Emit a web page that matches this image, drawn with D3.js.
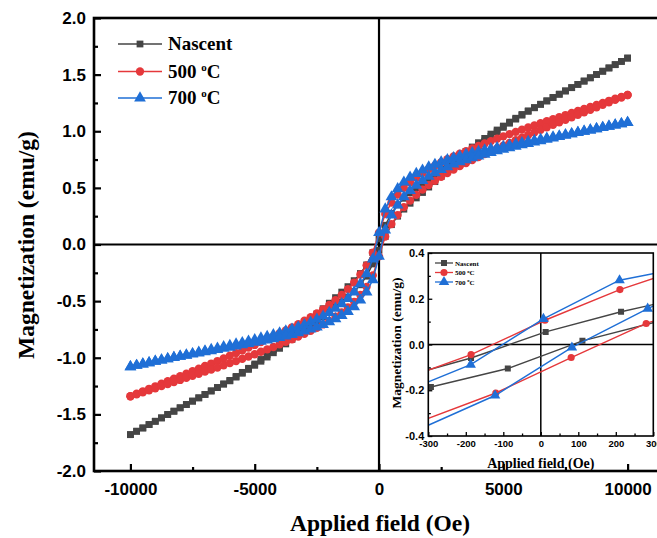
<!DOCTYPE html>
<html>
<head>
<meta charset="utf-8">
<script src="https://cdn.jsdelivr.net/npm/d3@7"></script>
<style>
body { margin: 0; background: #fff; }
svg { display: block; }
.tick text { font-family: "Liberation Sans", Arial, sans-serif; font-weight: bold; fill: #000; }
.title { font-family: "Liberation Serif", "Times New Roman", serif; font-weight: bold; fill: #000; }
</style>
</head>
<body>
<div id="chart"></div>
<script>
var width = 657,
    height = 538;

// field grid of the main loop (Oe)
var fields = [-10000,-9750,-9500,-9250,-9000,-8750,-8500,-8250,-8000,-7750,-7500,-7250,-7000,-6750,-6500,-6250,
  -6000,-5750,-5500,-5250,-5000,-4750,-4500,-4250,-4000,-3750,-3500,-3250,-3000,-2750,-2500,-2250,
  -2000,-1750,-1500,-1250,-1000,-750,-500,-250,0,250,500,750,1000,1250,1500,1750,
  2000,2250,2500,2750,3000,3250,3500,3750,4000,4250,4500,4750,5000,5250,5500,5750,
  6000,6250,6500,6750,7000,7250,7500,7750,8000,8250,8500,8750,9000,9250,9500,9750,10000];

// magnetization (emu/g), descending branch (Up) and ascending branch (Down)
var nascentUp = [-1.679,-1.649,-1.62,-1.59,-1.561,-1.531,-1.501,-1.472,-1.442,-1.413,-1.383,-1.354,-1.324,-1.293,-1.263,
  -1.231,-1.2,-1.165,-1.129,-1.093,-1.055,-1.015,-0.974,-0.932,-0.889,-0.844,-0.798,-0.752,-0.706,-0.66,-0.613,-0.567,
  -0.518,-0.469,-0.42,-0.372,-0.319,-0.256,-0.18,-0.072,0.05,
  0.17,0.275,0.35,0.408,0.456,0.499,0.541,0.583,0.625,0.664,0.704,0.744,0.783,0.822,0.861,0.899,0.937,0.975,1.011,1.046,
  1.081,1.115,1.148,1.18,1.209,1.238,1.268,1.298,1.327,1.356,1.385,1.414,1.443,1.472,1.501,1.53,1.559,1.588,1.617,1.646];
var nascentDown = [-1.679,-1.649,-1.62,-1.59,-1.561,-1.531,-1.501,-1.472,-1.442,-1.413,-1.383,-1.354,-1.324,-1.293,-1.263,
  -1.233,-1.204,-1.171,-1.137,-1.103,-1.067,-1.031,-0.994,-0.956,-0.917,-0.878,-0.838,-0.798,-0.758,-0.718,-0.677,-0.637,
  -0.594,-0.551,-0.508,-0.464,-0.415,-0.356,-0.28,-0.172,-0.05,
  0.07,0.175,0.25,0.312,0.364,0.411,0.459,0.507,0.555,0.6,0.646,0.692,0.737,0.782,0.827,0.871,0.913,0.955,0.995,1.034,
  1.071,1.107,1.142,1.176,1.207,1.238,1.268,1.298,1.327,1.356,1.385,1.414,1.443,1.472,1.501,1.53,1.559,1.588,1.617,1.646];

var c500Up = [-1.34,-1.318,-1.296,-1.274,-1.252,-1.229,-1.207,-1.185,-1.162,-1.14,-1.118,-1.096,-1.073,-1.051,-1.029,
  -1.005,-0.982,-0.959,-0.935,-0.911,-0.887,-0.861,-0.836,-0.811,-0.784,-0.758,-0.731,-0.703,-0.673,-0.641,-0.608,-0.572,
  -0.534,-0.492,-0.446,-0.394,-0.336,-0.265,-0.184,-0.073,0.105,
  0.27,0.37,0.44,0.5,0.549,0.592,0.63,0.665,0.697,0.726,0.753,0.778,0.802,0.825,0.848,0.87,0.892,0.913,0.934,0.955,
  0.975,0.995,1.014,1.033,1.052,1.071,1.089,1.107,1.125,1.143,1.161,1.179,1.197,1.215,1.233,1.251,1.269,1.287,1.304,1.32];
var c500Down = [-1.34,-1.324,-1.306,-1.288,-1.27,-1.251,-1.233,-1.215,-1.196,-1.178,-1.16,-1.142,-1.123,-1.105,-1.087,
  -1.067,-1.048,-1.029,-1.009,-0.989,-0.969,-0.947,-0.926,-0.905,-0.882,-0.86,-0.837,-0.813,-0.789,-0.763,-0.736,-0.706,
  -0.674,-0.638,-0.6,-0.556,-0.506,-0.445,-0.374,-0.273,-0.105,
  0.07,0.18,0.26,0.33,0.387,0.438,0.484,0.525,0.563,0.598,0.631,0.662,0.692,0.719,0.746,0.772,0.798,0.823,0.848,0.873,
  0.897,0.921,0.944,0.967,0.99,1.013,1.035,1.057,1.079,1.101,1.123,1.145,1.167,1.189,1.211,1.233,1.255,1.277,1.298,1.32];

var c700Up = [-1.08,-1.068,-1.056,-1.044,-1.032,-1.021,-1.01,-0.999,-0.988,-0.976,-0.964,-0.952,-0.94,-0.928,-0.916,
  -0.904,-0.892,-0.88,-0.867,-0.854,-0.841,-0.827,-0.812,-0.797,-0.781,-0.765,-0.748,-0.729,-0.709,-0.686,-0.661,-0.633,
  -0.601,-0.564,-0.523,-0.477,-0.42,-0.348,-0.26,-0.128,0.104,
  0.312,0.42,0.492,0.55,0.593,0.627,0.656,0.683,0.707,0.729,0.748,0.765,0.781,0.796,0.809,0.821,0.833,0.844,0.855,0.865,
  0.876,0.887,0.898,0.908,0.918,0.928,0.938,0.948,0.958,0.968,0.978,0.988,0.999,1.01,1.021,1.032,1.043,1.054,1.065,1.076];
var c700Down = [-1.08,-1.068,-1.056,-1.044,-1.032,-1.021,-1.01,-0.999,-0.988,-0.978,-0.968,-0.958,-0.948,-0.938,-0.928,
  -0.918,-0.908,-0.898,-0.887,-0.876,-0.865,-0.855,-0.844,-0.833,-0.821,-0.809,-0.796,-0.781,-0.765,-0.748,-0.729,-0.707,
  -0.683,-0.656,-0.627,-0.593,-0.55,-0.492,-0.42,-0.312,-0.104,
  0.128,0.26,0.348,0.42,0.477,0.523,0.564,0.601,0.633,0.661,0.686,0.709,0.729,0.748,0.765,0.781,0.797,0.812,0.827,0.841,
  0.854,0.867,0.88,0.892,0.904,0.916,0.928,0.94,0.952,0.964,0.976,0.988,0.999,1.01,1.021,1.032,1.043,1.054,1.065,1.076];

// inset: low-field part of the loops
var inNascentUpH = [414, 214, 13, -186, -386],   inNascentUpM = [0.217, 0.143, 0.055, -0.059, -0.151];
var inNascentDnH = [-293, -88, 111, 311],        inNascentDnM = [-0.186, -0.105, 0.016, 0.1];
var in500UpH = [411, 211, 11, -186, -386],       in500UpM = [0.35, 0.24, 0.106, -0.044, -0.164];
var in500DnH = [-320, -120, 81, 281, 481],       in500DnM = [-0.335, -0.212, -0.057, 0.092, 0.2];
var in700UpH = [410, 210, 7, -187, -387],        in700UpM = [0.345, 0.281, 0.112, -0.088, -0.222];
var in700DnH = [-322, -122, 83, 285, 485],       in700DnM = [-0.369, -0.223, -0.013, 0.157, 0.3];

var seriesNames = ["Nascent", "500", "700"];
var colors = ["#454545", "#e5383b", "#1f6fd6"];
var symbols = [d3.symbolSquare, d3.symbolCircle, d3.symbolTriangle];

var xMajor = [-10000, -5000, 0, 5000, 10000],
    xMinor = [-7500, -2500, 2500, 7500],
    yMajor = [-2, -1.5, -1, -0.5, 0, 0.5, 1, 1.5, 2],
    yMinor = [-1.75, -1.25, -0.75, -0.25, 0.25, 0.75, 1.25, 1.75];
var inXMajor = [-300, -200, -100, 0, 100, 200, 300],
    inXMinor = [-250, -150, -50, 50, 150, 250],
    inYMajor = [-0.4, -0.2, 0, 0.2, 0.4],
    inYMinor = [-0.3, -0.1, 0.1, 0.3];

var svg = d3.select("#chart")
    .append("svg")
    .attr("width", width)
    .attr("height", height);

// main plot area
var plotLeft = 94, plotRight = 664.9, plotTop = 18, plotBottom = 471;
var x = d3.scaleLinear().domain([-11465, 11500]).range([plotLeft, plotRight]);
var y = d3.scaleLinear().domain([-2, 2]).range([plotBottom, plotTop]);

var defs = svg.append("defs");
defs.append("clipPath").attr("id", "clipMain").append("rect")
    .attr("x", plotLeft).attr("y", plotTop)
    .attr("width", plotRight - plotLeft).attr("height", plotBottom - plotTop);

var line = d3.line()
    .x(function(d) { return x(d[0]); })
    .y(function(d) { return y(d[1]); });

var mainData = [
    [d3.zip(fields, nascentUp), d3.zip(fields, nascentDown)],
    [d3.zip(fields, c500Up), d3.zip(fields, c500Down)],
    [d3.zip(fields, c700Up), d3.zip(fields, c700Down)]
];
var mainSizes = [46, 54, 60];

// zero lines
svg.append("line").attr("x1", x(0)).attr("x2", x(0)).attr("y1", plotTop).attr("y2", plotBottom)
    .attr("stroke", "#000").attr("stroke-width", 2.2);
svg.append("line").attr("x1", plotLeft).attr("x2", 665).attr("y1", y(0)).attr("y2", y(0))
    .attr("stroke", "#000").attr("stroke-width", 2.2);

var plot = svg.append("g").attr("clip-path", "url(#clipMain)");
mainData.forEach(function(branches, i) {
    var g = plot.append("g");
    branches.forEach(function(b) {
        g.append("path").attr("d", line(b))
            .attr("fill", "none").attr("stroke", colors[i]).attr("stroke-width", 1.5);
    });
    branches.forEach(function(b) {
        g.selectAll(null).data(b).enter().append("path")
            .attr("d", d3.symbol().type(symbols[i]).size(mainSizes[i]))
            .attr("transform", function(d) { return "translate(" + x(d[0]) + "," + y(d[1]) + ")"; })
            .attr("fill", colors[i]);
    });
});

// axes, ticks pointing inward
var gx = svg.append("g").attr("transform", "translate(0," + plotBottom + ")");
gx.call(d3.axisBottom(x).tickValues(xMajor).tickSize(-7).tickPadding(12)
    .tickFormat(function(d) { return String(d); }));
gx.append("g").call(d3.axisBottom(x).tickValues(xMinor).tickSize(-4).tickFormat(""));
gx.selectAll("text").style("font-size", "17px");

var gy = svg.append("g").attr("transform", "translate(" + plotLeft + ",0)");
gy.call(d3.axisLeft(y).tickValues(yMajor).tickSize(-7).tickPadding(8)
    .tickFormat(function(d) { return d.toFixed(1); }));
gy.append("g").call(d3.axisLeft(y).tickValues(yMinor).tickSize(-4).tickFormat(""));
gy.selectAll("text").style("font-size", "17px");

svg.selectAll(".domain").remove();
svg.selectAll(".tick line").attr("stroke", "#000").attr("stroke-width", 2.2);

svg.append("rect").attr("x", plotLeft).attr("y", plotTop).attr("width", 700).attr("height", plotBottom - plotTop)
    .attr("fill", "none").attr("stroke", "#000").attr("stroke-width", 2.6);

// axis titles
svg.append("text").attr("class", "title").attr("x", 380).attr("y", 531)
    .attr("text-anchor", "middle").style("font-size", "23.5px").text("Applied field (Oe)");
svg.append("text").attr("class", "title")
    .attr("transform", "translate(34,245) rotate(-90)")
    .attr("text-anchor", "middle").style("font-size", "23.5px").text("Magnetization (emu/g)");

// legend
function legendLabel(sel, i, big) {
    if (i === 0) { sel.text(seriesNames[0]); return; }
    sel.text(seriesNames[i] + " ");
    sel.append("tspan").attr("dy", big ? -7 : -2.5).style("font-size", big ? "11px" : "4.5px").text("o");
    sel.append("tspan").attr("dy", big ? 7 : 2.5).text("C");
}
var legend = svg.append("g");
[44, 71.5, 98].forEach(function(ly, i) {
    legend.append("line").attr("x1", 118).attr("x2", 162).attr("y1", ly).attr("y2", ly)
        .attr("stroke", colors[i]).attr("stroke-width", 1.5);
    legend.append("path").attr("d", d3.symbol().type(symbols[i]).size(mainSizes[i]))
        .attr("transform", "translate(140," + ly + ")").attr("fill", colors[i]);
    legend.append("text").attr("class", "title").attr("x", 168).attr("y", ly + 6)
        .style("font-size", "19px").call(legendLabel, i, true);
});

// inset
var inL = 428.3, inR = 653.3, inT = 253, inB = 436;
var ix = d3.scaleLinear().domain([-300, 300]).range([inL, inR]);
var iy = d3.scaleLinear().domain([-0.4, 0.4]).range([inB, inT]);
defs.append("clipPath").attr("id", "clipInset").append("rect")
    .attr("x", inL).attr("y", inT).attr("width", inR - inL).attr("height", inB - inT);

var inset = svg.append("g");
inset.append("rect").attr("x", inL).attr("y", inT).attr("width", inR - inL).attr("height", inB - inT)
    .attr("fill", "#fff");
inset.append("line").attr("x1", ix(0)).attr("x2", ix(0)).attr("y1", inT).attr("y2", inB)
    .attr("stroke", "#000").attr("stroke-width", 1.5);
inset.append("line").attr("x1", inL).attr("x2", inR).attr("y1", iy(0)).attr("y2", iy(0))
    .attr("stroke", "#000").attr("stroke-width", 1.5);

var iline = d3.line()
    .x(function(d) { return ix(d[0]); })
    .y(function(d) { return iy(d[1]); });
var insetData = [
    [d3.zip(inNascentUpH, inNascentUpM), d3.zip(inNascentDnH, inNascentDnM)],
    [d3.zip(in500UpH, in500UpM), d3.zip(in500DnH, in500DnM)],
    [d3.zip(in700UpH, in700UpM), d3.zip(in700DnH, in700DnM)]
];
var inSizes = [36, 40, 48];
var iplot = inset.append("g").attr("clip-path", "url(#clipInset)");
insetData.forEach(function(branches, i) {
    var g = iplot.append("g");
    branches.forEach(function(b) {
        g.append("path").attr("d", iline(b))
            .attr("fill", "none").attr("stroke", colors[i]).attr("stroke-width", 1.4);
        g.selectAll(null).data(b).enter().append("path")
            .attr("d", d3.symbol().type(symbols[i]).size(inSizes[i]))
            .attr("transform", function(d) { return "translate(" + ix(d[0]) + "," + iy(d[1]) + ")"; })
            .attr("fill", colors[i]);
    });
});

var igx = inset.append("g").attr("transform", "translate(0," + inB + ")");
igx.call(d3.axisBottom(ix).tickValues(inXMajor).tickSize(-4).tickPadding(4)
    .tickFormat(function(d) { return String(d); }));
igx.append("g").call(d3.axisBottom(ix).tickValues(inXMinor).tickSize(-2.5).tickFormat(""));
igx.selectAll("text").style("font-size", "9.5px");

var igy = inset.append("g").attr("transform", "translate(" + inL + ",0)");
igy.call(d3.axisLeft(iy).tickValues(inYMajor).tickSize(-4).tickPadding(4)
    .tickFormat(function(d) { return d.toFixed(1); }));
igy.append("g").call(d3.axisLeft(iy).tickValues(inYMinor).tickSize(-2.5).tickFormat(""));
igy.selectAll("text").style("font-size", "11px");

inset.selectAll(".domain").remove();
inset.selectAll(".tick line").attr("stroke", "#000").attr("stroke-width", 1.3);
inset.append("rect").attr("x", inL).attr("y", inT).attr("width", inR - inL).attr("height", inB - inT)
    .attr("fill", "none").attr("stroke", "#000").attr("stroke-width", 1.6);

inset.append("text").attr("class", "title").attr("x", ix(0)).attr("y", 468)
    .attr("text-anchor", "middle").style("font-size", "14px").text("Applied field (Oe)");
inset.append("text").attr("class", "title")
    .attr("transform", "translate(401,343) rotate(-90)")
    .attr("text-anchor", "middle").style("font-size", "13.5px").text("Magnetization (emu/g)");

[263, 272.5, 282].forEach(function(ly, i) {
    inset.append("line").attr("x1", 435).attr("x2", 453).attr("y1", ly).attr("y2", ly)
        .attr("stroke", colors[i]).attr("stroke-width", 1.3);
    inset.append("path").attr("d", d3.symbol().type(symbols[i]).size(inSizes[i]))
        .attr("transform", "translate(444," + ly + ")").attr("fill", colors[i]);
    inset.append("text").attr("class", "title").attr("x", 455).attr("y", ly + 2.5)
        .style("font-size", "7px").call(legendLabel, i, false);
});
</script>
</body>
</html>
